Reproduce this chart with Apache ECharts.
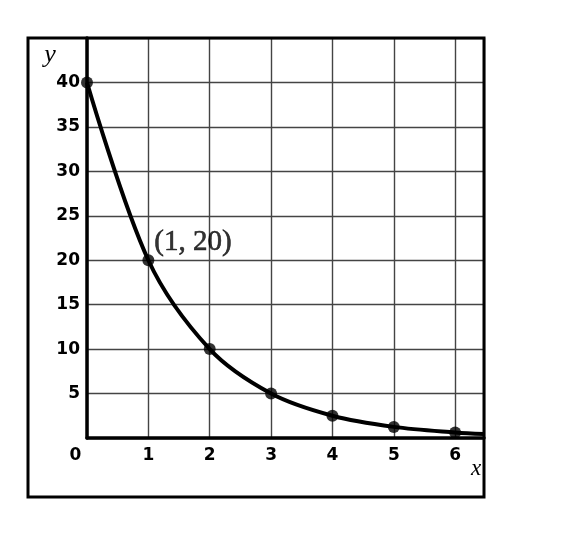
<!DOCTYPE html>
<html>
<head>
<meta charset="utf-8">
<script src="https://cdn.jsdelivr.net/npm/echarts@6/dist/echarts.min.js"></script>
<style>html,body{margin:0;padding:0;background:#fff}#c{width:564px;height:534px}</style>
</head>
<body>
<div id="c"></div>
<script>
// Data
var xValues = [0, 1, 2, 3, 4, 5, 6];
var yValues = [40, 20, 10, 5, 2.5, 1.25, 0.625];
var curveEnd = [6.47, 0.45];      // where the curve leaves the plot on the right
var labelledIndex = 1;            // point carrying "(1, 20)"
var labelText = '(1, 20)';
var xMax = 6.47, yMax = 45;

var pts = xValues.map(function (x, i) { return [x, yValues[i]]; });
var curve = pts.concat([curveEnd]);

var chart = echarts.init(document.getElementById('c'), null, {renderer: 'canvas'});
var labelFont = {fontFamily: 'DejaVu Sans', fontWeight: 'bold', fontSize: 17, color: '#000'};

chart.setOption({
  animation: false,
  backgroundColor: '#fff',
  grid: {left: 87, right: 80, top: 38, bottom: 96, containLabel: false},
  xAxis: {
    type: 'value', min: 0, max: xMax, interval: 1,
    axisLine: {show: true, onZero: false, lineStyle: {color: '#000', width: 3.5}},
    axisTick: {show: false},
    splitLine: {show: true, lineStyle: {color: '#444', width: 1.4}},
    axisLabel: Object.assign({margin: 9, formatter: function (v) {
      return (Number.isInteger(v) && v > 0) ? String(v) : '';
    }}, labelFont)
  },
  yAxis: {
    type: 'value', min: 0, max: yMax, interval: 5,
    axisLine: {show: true, onZero: false, lineStyle: {color: '#000', width: 3.5}},
    axisTick: {show: false},
    splitLine: {show: true, lineStyle: {color: '#444', width: 1.4}},
    axisLabel: Object.assign({margin: 7, formatter: function (v) {
      return (v > 0 && v < yMax) ? String(v) : '';
    }}, labelFont)
  },
  series: [
    {
      type: 'line', data: curve, smooth: 0.33, symbol: 'none', clip: true,
      lineStyle: {color: '#000', width: 4}, z: 3
    },
    {
      type: 'scatter', symbol: 'circle', symbolSize: 12, clip: false, z: 4,
      itemStyle: {color: '#000'},
      data: pts.map(function (p, i) {
        var d = {value: p};
        if (i === labelledIndex) {
          d.label = {
            show: true, formatter: labelText, position: [12, -12],
            align: 'left', verticalAlign: 'middle',
            fontFamily: 'Liberation Serif', fontSize: 29, color: '#000',
            textBorderColor: '#000', textBorderWidth: 0.6
          };
        }
        return d;
      })
    }
  ],
  graphic: [
    {type: 'rect', shape: {x: 28, y: 38, width: 456, height: 459},
     style: {fill: null, stroke: '#000', lineWidth: 3}, z: 100},
    {type: 'text', x: 75.5, y: 455.5,
     style: {text: '0', font: 'bold 17px "DejaVu Sans"', fill: '#000', align: 'center', verticalAlign: 'middle'}},
    {type: 'text', x: 50, y: 55,
     style: {text: 'y', font: 'italic 26px "Liberation Serif"', fill: '#000', align: 'center', verticalAlign: 'middle'}},
    {type: 'text', x: 476, y: 469,
     style: {text: 'x', font: 'italic 23px "Liberation Serif"', fill: '#000', align: 'center', verticalAlign: 'middle'}}
  ]
});
</script>
</body>
</html>
